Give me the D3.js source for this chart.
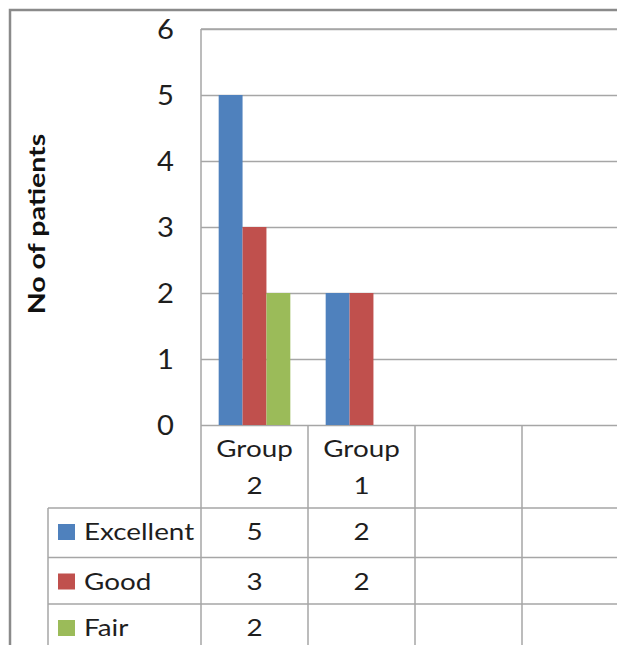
<!DOCTYPE html>
<html>
<head>
<meta charset="utf-8">
<script src="https://cdn.jsdelivr.net/npm/d3@7"></script>
<style>
  html, body { margin: 0; padding: 0; background: #fff; overflow: hidden; }
  svg { display: block; font-family: Lato, "Open Sans", sans-serif; }
</style>
</head>
<body>
<svg id="chart" width="617" height="645"></svg>
<script>
// DATA
const categories = ["Group 2", "Group 1"]
const columnCount = 4
const series = ["Excellent", "Good", "Fair"]
const excellent = [5, 2]
const good = [3, 2]
const fair = [2, null]
const yTicks = [0, 1, 2, 3, 4, 5, 6]
const colours = ["#4F81BD", "#C0504D", "#9BBB59"]

const values = [excellent, good, fair]
const gridColour = "#a6a6a6"
const textColour = "#1e1e1e"
// the reference type is set wider than Lato, stretch it a bit
const stretch = 1.21

let svg = d3.select("#chart")

// MARGINS
let margins = {top: 29, left: 201}
let zeroY = 425
let bandW = 107
let rowTops = [425, 508, 557.5, 604, 651]

// X, Y AND Xsub SETUP
let x = d3.scaleBand()
    .domain(d3.range(columnCount))
    .range([margins.left, margins.left + bandW * columnCount])
    .padding(0)
let y = d3.scaleLinear()
    .domain([0, 6])
    .range([zeroY, margins.top])
let xsub = d3.scaleBand()
    .domain(series)
    .range([0, x.bandwidth()])
    .paddingInner(0)
    .paddingOuter(0.74)
let colour = d3.scaleOrdinal()
    .domain(series)
    .range(colours)

// OUTER BORDER
svg.append("rect")
    .attr("x", 10).attr("y", 10)
    .attr("width", 700).attr("height", 700)
    .attr("fill", "none")
    .attr("stroke", "#8a8a8a")
    .attr("stroke-width", 2.5)

// GRIDLINES
svg.append("g")
    .attr("transform", `translate(${margins.left},0)`)
    .call(d3.axisLeft(y).tickValues(yTicks).tickSizeInner(-bandW * columnCount).tickSizeOuter(0).tickFormat(""))
    .call(g => g.select(".domain").remove())
    .selectAll("line")
    .attr("stroke", gridColour)
    .attr("stroke-width", 1.5)

// Y AXIS TICK LABELS
svg.append("g")
    .selectAll("text")
    .data(yTicks)
    .join("text")
    .attr("transform", d => `translate(174, ${y(d)}) scale(1.08, 1)`)
    .attr("dy", "0.36em")
    .attr("text-anchor", "end")
    .attr("font-size", 27)
    .attr("fill", textColour)
    .text(d => d)

// Y AXIS TITLE
svg.append("text")
    .attr("transform", `translate(45, 224) rotate(-90) scale(1.24, 1)`)
    .attr("text-anchor", "middle")
    .attr("font-size", 23)
    .attr("font-weight", "bold")
    .attr("fill", "#111")
    .text("No of patients")

// BARS
svg.append("g")
    .selectAll("g")
    .data(categories)
    .join("g")
    .attr("transform", (d, i) => `translate(${x(i)},0)`)
    .selectAll("rect")
    .data((d, i) => series.map((s, j) => ({key: s, value: values[j][i]})).filter(d => d.value != null))
    .join("rect")
    .attr("x", d => xsub(d.key))
    .attr("y", d => y(d.value))
    .attr("width", xsub.bandwidth())
    .attr("height", d => zeroY - y(d.value))
    .attr("fill", d => colour(d.key))

// TABLE LINES
let table = svg.append("g")
    .attr("stroke", gridColour)
    .attr("stroke-width", 1.5)

// plot left edge
table.append("line")
    .attr("x1", margins.left).attr("x2", margins.left)
    .attr("y1", margins.top).attr("y2", 650)
// top edge of plot
table.append("line")
    .attr("x1", margins.left).attr("x2", 640)
    .attr("y1", margins.top).attr("y2", margins.top)
// column separators
table.selectAll(".col")
    .data(d3.range(1, columnCount + 1))
    .join("line")
    .attr("x1", d => x(0) + d * bandW).attr("x2", d => x(0) + d * bandW)
    .attr("y1", zeroY).attr("y2", 650)
// row separators
table.selectAll(".row")
    .data(rowTops.slice(1, 4))
    .join("line")
    .attr("x1", 48).attr("x2", 640)
    .attr("y1", d => d).attr("y2", d => d)
// table left edge
table.append("line")
    .attr("x1", 48).attr("x2", 48)
    .attr("y1", rowTops[1]).attr("y2", 650)

// CATEGORY LABELS (two lines each)
let catLines = []
categories.forEach((c, i) => {
    c.split(" ").forEach((w, k) => catLines.push({text: w, col: i, line: k}))
})
svg.append("g")
    .selectAll("text")
    .data(catLines)
    .join("text")
    .attr("transform", d => `translate(${x(d.col) + bandW / 2}, ${457 + d.line * 37}) scale(${stretch}, 1)`)
    .attr("text-anchor", "middle")
    .attr("font-size", 23)
    .attr("fill", textColour)
    .text(d => d.text)

// LEGEND KEYS AND SERIES NAMES
let rows = svg.append("g")
    .selectAll("g")
    .data(series)
    .join("g")
rows.append("rect")
    .attr("x", 58)
    .attr("y", (d, i) => rowTops[i + 1] + 16)
    .attr("width", 17)
    .attr("height", 16)
    .attr("fill", d => colour(d))
rows.append("text")
    .attr("transform", (d, i) => `translate(84, ${rowTops[i + 1] + 32}) scale(${stretch}, 1)`)
    .attr("font-size", 23)
    .attr("fill", textColour)
    .text(d => d)

// TABLE VALUES
series.forEach((s, j) => {
    svg.append("g")
        .selectAll("text")
        .data(categories.map((c, i) => values[j][i]))
        .join("text")
        .attr("transform", (d, i) => `translate(${x(i) + bandW / 2}, ${rowTops[j + 1] + 32}) scale(${stretch}, 1)`)
        .attr("text-anchor", "middle")
        .attr("font-size", 23)
        .attr("fill", textColour)
        .text(d => d == null ? "" : d)
})
</script>
</body>
</html>
